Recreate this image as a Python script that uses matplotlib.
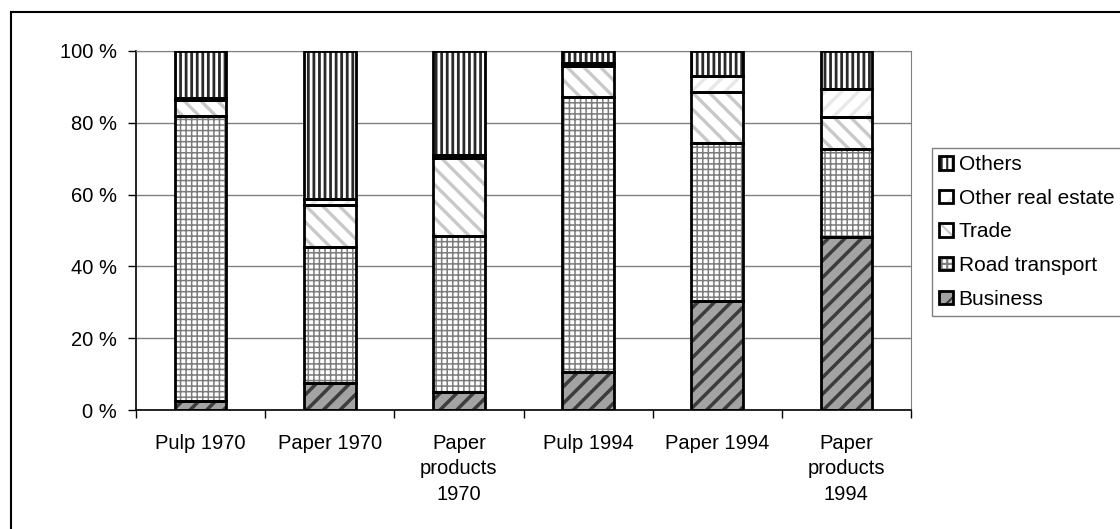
import matplotlib.pyplot as plt
from matplotlib.lines import Line2D
from matplotlib.legend_handler import HandlerTuple
import numpy as np

plt.rcParams['font.family'] = ['Liberation Sans', 'DejaVu Sans']
plt.rcParams['font.size'] = 14.5
plt.rcParams['hatch.linewidth'] = 1.5

cats = ['Pulp 1970', 'Paper 1970', 'Paper\nproducts\n1970',
        'Pulp 1994', 'Paper 1994', 'Paper\nproducts\n1994']
business = [2.5, 7.4, 5.1, 10.5, 30.5, 48.1]
road = [79.4, 37.9, 43.5, 76.6, 43.8, 24.6]
trade = [4.5, 11.8, 21.5, 8.7, 14.4, 8.9]
other_re = [0.5, 1.6, 0.9, 0.9, 4.4, 7.9]
others = [13.1, 41.3, 29.0, 3.3, 6.9, 10.5]

# name, values, face, hatch colour, hatch, hatch width
series = [
    ('Business', business, '#a3a3a3', '#3c3c3c', '//', 2.5),
    ('Road transport', road, 'white', '#7c7c7c', '+++', 1.1),
    ('Trade', trade, 'white', '#c8c8c8', '\\\\', 2.4),
    ('Other real estate', other_re, 'white', '#e8e8e8', '//', 2.4),
    ('Others', others, 'white', '#2a2a2a', '|||', 2.0),
]

W, H = 1120, 529
fig = plt.figure(figsize=(W / 100, H / 100), dpi=100)
ax = fig.add_axes([136 / W, 1 - 410 / H, (911 - 136) / W, (410 - 51) / H])

x = np.arange(len(cats))
bottom = np.zeros(len(cats))
handles = []
names = []
for name, vals, face, hcol, h, hw in series:
    hb = ax.bar(x, vals, 0.4, bottom=bottom, color=face, edgecolor=hcol,
                lw=0, hatch=h, zorder=2)
    for p in hb:
        if hasattr(p, 'set_hatch_linewidth'):
            p.set_hatch_linewidth(hw)
    ob = ax.bar(x, vals, 0.4, bottom=bottom, fill=False, edgecolor='black',
                lw=2.0, zorder=3)
    handles.append((hb[0], ob[0]))
    names.append(name)
    bottom += np.array(vals)

ax.set_ylim(0, 100)
ax.set_yticks(range(0, 101, 20))
ax.set_yticklabels(['%d %%' % v for v in range(0, 101, 20)])
ax.tick_params(axis='y', length=6, width=1, pad=8)

ax.set_xlim(-0.5, 5.5)
ax.set_xticks(np.arange(-0.5, 6, 1))
ax.set_xticklabels([])
ax.set_xticks(x, minor=True)
ax.set_xticklabels(cats, minor=True, linespacing=1.45)
ax.tick_params(axis='x', which='major', length=6, width=1)
ax.tick_params(axis='x', which='minor', length=0, pad=17)

ax.yaxis.grid(True, color='#808080', lw=1)
ax.set_axisbelow(True)
for s in ['top', 'right']:
    ax.spines[s].set_color('#808080')
for s in ['left', 'bottom']:
    ax.spines[s].set_color('black')
    ax.spines[s].set_linewidth(1.2)

leg = fig.legend(handles[::-1], names[::-1], loc='upper left',
                 bbox_to_anchor=(932 / W, 1 - 148 / H), bbox_transform=fig.transFigure,
                 handler_map={tuple: HandlerTuple(ndivide=1)},
                 handlelength=0.68, handleheight=0.62, handletextpad=0.25,
                 labelspacing=0.7, borderpad=0.35, borderaxespad=0,
                 fancybox=False, edgecolor='#808080', framealpha=1, fontsize=15)
leg.get_frame().set_linewidth(1)

# outer chart border (only left and top visible)
fig.add_artist(Line2D([11 / W, 11 / W], [0, 1 - 12 / H], color='black', lw=1.5,
                      transform=fig.transFigure))
fig.add_artist(Line2D([11 / W, 1], [1 - 12 / H, 1 - 12 / H], color='black', lw=1.5,
                      transform=fig.transFigure))

fig.savefig('out.png', dpi=100)
